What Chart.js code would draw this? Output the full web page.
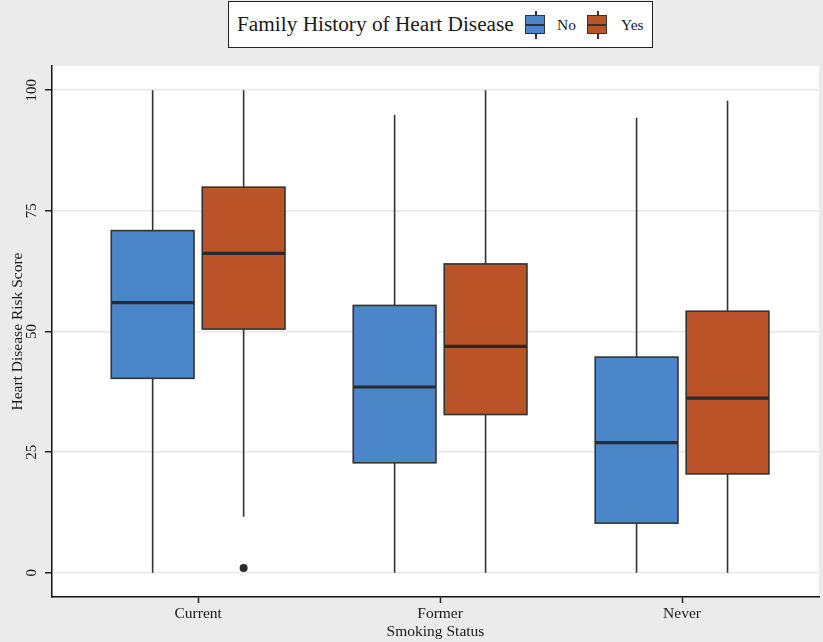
<!DOCTYPE html>
<html>
<head>
<meta charset="utf-8">
<script src="https://cdn.jsdelivr.net/npm/chart.js@4.4.1/dist/chart.umd.min.js"></script>
<style>
  html, body { margin: 0; padding: 0; background: #ebebeb; }
  #wrap { position: relative; width: 823px; height: 642px; overflow: hidden; }
  #legend { position: absolute; left: 228px; top: 1px; width: 423px; height: 45px; background: #fff;
            border: 1.5px solid #222; font-family: "Liberation Serif", "DejaVu Serif", serif; color: #1a1a1a; }
  #legend .ttl { position: absolute; left: 8px; top: 10px; font-size: 21.3px; line-height: 24px; white-space: nowrap; }
  #legend .lbl { position: absolute; top: 14px; font-size: 15.5px; line-height: 18px; }
  .ico { position: absolute; top: 9px; width: 21px; height: 28px; }
  .ico .stub { position: absolute; left: 10px; width: 1.5px; height: 28px; background: #333; top: 0; }
  .ico .bx { position: absolute; left: 0; top: 4px; width: 18px; height: 17px; border: 1.5px solid #333; }
  .ico .md { position: absolute; left: 0; top: 7.5px; width: 18px; height: 2px; background: #333; }
</style>
</head>
<body>
<div id="wrap">
  <canvas id="boxChart" width="823" height="642"></canvas>
  <div id="legend">
    <span class="ttl">Family History of Heart Disease</span>
    <div class="ico" style="left:296px"><div class="stub"></div><div class="bx" style="background:#4a86c8"><div class="md"></div></div></div>
    <span class="lbl" style="left:328px">No</span>
    <div class="ico" style="left:358px"><div class="stub"></div><div class="bx" style="background:#bb5329"><div class="md"></div></div></div>
    <span class="lbl" style="left:392px">Yes</span>
  </div>
</div>
<script>
(function () {

// ---------------------------------------------------------------------------------------------

var categories = ['Current', 'Former', 'Never'];
var yTicks = [0, 25, 50, 75, 100];

// Family history = No
var noMin = [0, 0, 0];
var noQ1  = [40.3, 22.8, 10.3];
var noMed = [56.0, 38.5, 27.0];
var noQ3  = [70.9, 55.4, 44.7];
var noMax = [100, 94.9, 94.3];

// Family history = Yes
var yesMin = [11.6, 0, 0];
var yesQ1  = [50.5, 32.8, 20.5];
var yesMed = [66.2, 46.9, 36.2];
var yesQ3  = [79.9, 64.0, 54.2];
var yesMax = [100, 100, 97.8];
var yesOutliers = [[1.0], [], []];

var noColor = "#4a86c8";
var yesColor = "#bb5329";
var lineColor = "#333333";
var DODGE = 0.188;
var HALF = 0.171;

var groups = [
    { min: noMin, q1: noQ1, med: noMed, q3: noQ3, max: noMax, color: noColor, off: -DODGE },
    { min: yesMin, q1: yesQ1, med: yesMed, q3: yesQ3, max: yesMax, color: yesColor, off: DODGE }
];

var outlierPts = [];
yesOutliers.forEach(function (arr, i) {
    arr.forEach(function (v) { outlierPts.push({ x: i + 1 + DODGE, y: v }); });
});

var serif = "'Liberation Serif', 'DejaVu Serif', serif";

// white panel behind the plot
var panelBg = {
    id: 'panelBg',
    beforeDraw: function (chart) {
        var a = chart.chartArea, ctx = chart.ctx;
        ctx.save();
        ctx.fillStyle = "#ffffff";
        ctx.fillRect(a.left, a.top, a.right - a.left, a.bottom - a.top);
        ctx.restore();
    }
};

// box + whisker drawing, positions come from the chart scales
var boxPlot = {
    id: 'boxPlot',
    beforeDatasetsDraw: function (chart) {
        var ctx = chart.ctx, xs = chart.scales.x, ys = chart.scales.y;
        ctx.save();
        groups.forEach(function (g) {
            categories.forEach(function (c, i) {
                var xc = xs.getPixelForValue(i + 1 + g.off);
                var xl = xs.getPixelForValue(i + 1 + g.off - HALF);
                var xr = xs.getPixelForValue(i + 1 + g.off + HALF);
                var yMin = ys.getPixelForValue(g.min[i]);
                var yQ1 = ys.getPixelForValue(g.q1[i]);
                var yMed = ys.getPixelForValue(g.med[i]);
                var yQ3 = ys.getPixelForValue(g.q3[i]);
                var yMax = ys.getPixelForValue(g.max[i]);

                // whiskers
                ctx.strokeStyle = lineColor;
                ctx.lineWidth = 1.6;
                ctx.beginPath();
                ctx.moveTo(xc, yMax); ctx.lineTo(xc, yQ3);
                ctx.moveTo(xc, yQ1); ctx.lineTo(xc, yMin);
                ctx.stroke();

                // box
                ctx.fillStyle = g.color;
                ctx.fillRect(xl, yQ3, xr - xl, yQ1 - yQ3);
                ctx.lineWidth = 1.6;
                ctx.strokeRect(xl, yQ3, xr - xl, yQ1 - yQ3);

                // median
                ctx.strokeStyle = "#2b2b2b";
                ctx.lineWidth = 3.2;
                ctx.beginPath();
                ctx.moveTo(xl, yMed); ctx.lineTo(xr, yMed);
                ctx.stroke();
            });
        });
        ctx.restore();
    }
};

var canvas = document.getElementById('boxChart');
var ctx = canvas.getContext('2d');

new Chart(ctx, {
    type: 'scatter',
    data: {
        datasets: [{
            label: 'Outliers',
            data: outlierPts,
            pointRadius: 4,
            pointBackgroundColor: "#2b2b2b",
            pointBorderColor: "#2b2b2b",
            pointBorderWidth: 0
        }]
    },
    options: {
        responsive: false,
        animation: false,
        devicePixelRatio: 1,
        layout: { padding: { top: 66, left: 0, right: 0, bottom: 0 } },
        plugins: { legend: { display: false }, tooltip: { enabled: false } },
        scales: {
            x: {
                type: 'linear',
                min: 0.396,
                max: 3.566,
                afterFit: function (s) { s.height = 45; },
                afterBuildTicks: function (s) {
                    s.ticks = categories.map(function (c, i) { return { value: i + 1 }; });
                },
                grid: { drawOnChartArea: false, drawTicks: true, tickLength: 6, tickColor: "#222", tickWidth: 1.5 },
                border: { display: true, color: "#111", width: 1.5 },
                ticks: {
                    padding: 2,
                    color: "#1a1a1a",
                    font: { family: serif, size: 15.5 },
                    maxRotation: 0,
                    callback: function (v) { return categories[v - 1]; }
                },
                title: { display: true, text: 'Smoking Status', color: "#1a1a1a",
                         font: { family: serif, size: 15.5 }, padding: { top: 0, bottom: 1 } }
            },
            y: {
                type: 'linear',
                min: -5,
                max: 105,
                afterFit: function (s) { s.width = 52; },
                afterBuildTicks: function (s) {
                    s.ticks = yTicks.map(function (v) { return { value: v }; });
                },
                grid: { color: "#e8e8e8", lineWidth: 1.5, tickLength: 7, tickColor: "#222", tickWidth: 1.5 },
                border: { display: true, color: "#111", width: 1.5 },
                ticks: {
                    padding: 2,
                    minRotation: 90,
                    maxRotation: 90,
                    crossAlign: 'center',
                    color: "#1a1a1a",
                    font: { family: serif, size: 15 },
                    callback: function (v) { return String(v); }
                },
                title: { display: true, text: 'Heart Disease Risk Score', color: "#1a1a1a",
                         font: { family: serif, size: 15.5 }, padding: { top: 9, bottom: 0 } }
            }
        }
    },
    plugins: [panelBg, boxPlot]
});

// ---------------------------------------------------------------------------------------------

})();
</script>
</body>
</html>
